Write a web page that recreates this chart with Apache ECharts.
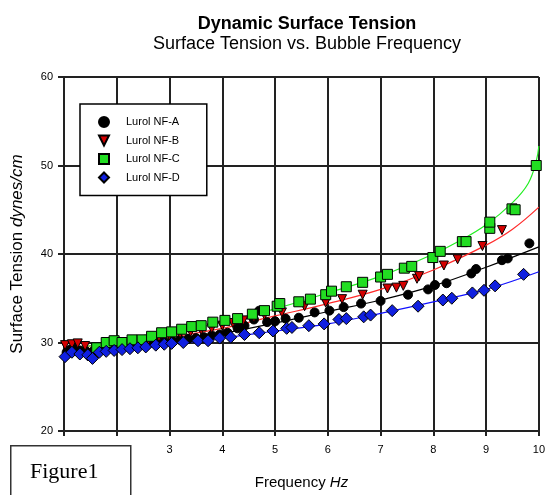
<!DOCTYPE html>
<html>
<head>
<meta charset="utf-8">
<script src="https://cdn.jsdelivr.net/npm/echarts@6/dist/echarts.min.js"></script>
<style>
html,body{margin:0;padding:0;background:#fff;}
#chart{width:548px;height:495px;}
</style>
</head>
<body>
<div id="chart"></div>
<script>
var seriesNames = ['Lurol NF-A', 'Lurol NF-B', 'Lurol NF-C', 'Lurol NF-D'];
var xTicks = [1, 2, 3, 4, 5, 6, 7, 8, 9, 10];
var yTicks = [20, 30, 40, 50, 60];

var nfaX = [1.05,1.12,1.2,1.3,1.42,1.55,1.7,1.85,2.0,2.15,2.3,2.45,2.6,2.75,2.9,3.05,3.2,3.35,3.5,3.65,3.8,3.95,4.1,4.29,4.42,4.6,4.7,4.85,5.0,5.2,5.45,5.75,6.03,6.3,6.63,7.0,7.52,7.9,8.03,8.25,8.72,8.81,9.3,9.41,9.82];
var nfaY = [28.9,29.2,29.4,29.1,29.0,29.0,29.3,29.4,29.5,29.6,29.7,29.8,29.9,30.0,30.1,30.2,30.3,30.4,30.5,30.6,30.8,30.9,31.1,31.6,31.9,32.6,33.6,32.3,32.4,32.7,32.8,33.4,33.6,34.0,34.4,34.7,35.4,36.0,36.5,36.7,37.8,38.3,39.3,39.5,41.2];

var nfbX = [1.02,1.15,1.26,1.4,1.6,1.8,2.0,2.2,2.4,2.6,2.8,3.0,3.2,3.4,3.6,3.8,4.0,4.2,4.4,4.6,4.8,5.13,5.56,5.96,6.27,6.66,7.13,7.3,7.43,7.69,7.73,8.2,8.46,8.93,9.3];
var nfbY = [29.7,29.8,29.9,29.6,29.4,29.6,29.8,30.0,30.1,30.3,30.6,30.8,31.0,31.2,31.4,31.6,31.9,32.2,32.5,32.8,33.1,33.4,34.1,34.5,34.9,35.4,36.1,36.2,36.4,37.2,37.5,38.7,39.4,40.9,42.7];

var nfcX = [1.62,1.8,1.95,2.1,2.29,2.48,2.66,2.85,3.04,3.23,3.42,3.6,3.82,4.05,4.29,4.57,4.8,5.04,5.09,5.45,5.67,5.96,6.07,6.35,6.66,7.0,7.13,7.45,7.59,7.99,8.13,8.55,8.62,9.07,9.07,9.49,9.55,9.95];
var nfcY = [29.4,30.0,30.2,30.0,30.3,30.3,30.7,31.1,31.2,31.5,31.8,31.9,32.3,32.5,32.7,33.2,33.6,34.1,34.4,34.6,34.9,35.4,35.8,36.3,36.8,37.4,37.7,38.4,38.6,39.6,40.3,41.4,41.4,42.9,43.6,45.1,45.0,50.0];

var nfdX = [1.02,1.15,1.3,1.45,1.54,1.67,1.8,1.95,2.1,2.25,2.4,2.55,2.74,2.9,3.04,3.26,3.54,3.73,3.95,4.16,4.42,4.70,4.96,5.22,5.32,5.64,5.93,6.21,6.35,6.68,6.81,7.22,7.71,8.18,8.35,8.74,8.96,9.17,9.71];
var nfdY = [28.4,28.9,28.7,28.6,28.2,28.9,29.0,29.1,29.2,29.3,29.4,29.5,29.7,29.8,29.9,30.0,30.2,30.2,30.5,30.6,30.9,31.1,31.3,31.6,31.7,31.9,32.1,32.6,32.7,32.9,33.1,33.6,34.1,34.8,35.0,35.6,35.9,36.4,37.7];

// fitted trend curves
var fitAX = [1,2,3,4,5,6,7,8,9,10];
var fitAY = [29.0,29.4,30.0,31.0,32.2,33.5,34.8,36.4,38.5,40.8];
var fitBX = [1,2,3,4,5,6,7,8,9,9.5,10];
var fitBY = [29.5,29.8,30.6,31.6,33.0,34.4,36.0,38.2,41.0,42.8,45.3];
var fitCX = [1,2,3,4,5,6,7,8,8.5,9,9.5,9.8,9.95,10];
var fitCY = [29.3,30.0,31.0,32.3,33.8,35.6,37.5,40.0,41.5,43.3,45.8,48.0,50.5,52.2];
var fitDX = [1,2,3,4,5,6,7,8,9,10];
var fitDY = [28.5,29.2,29.8,30.5,31.3,32.1,33.3,34.6,36.0,38.0];

function pairs(xs, ys) { return xs.map(function (x, i) { return [x, ys[i]]; }); }

var FONT = '"Liberation Sans", Arial, sans-serif';
var chart = echarts.init(document.getElementById('chart'), null, {renderer: 'canvas'});

function fit(xs, ys, color) {
  return {
    type: 'line', data: pairs(xs, ys), smooth: 0.4, symbol: 'none', silent: true,
    lineStyle: {color: color, width: 1.2}, z: 2, legendHoverLink: false
  };
}
function pts(name, xs, ys, symbol, size, color) {
  return {
    type: 'scatter', name: name, data: pairs(xs, ys), symbol: symbol, symbolSize: size,
    itemStyle: {color: color, borderColor: '#000', borderWidth: 1, opacity: 1}, z: 3
  };
}

var option = {
  backgroundColor: '#fff',
  animation: false,
  title: [
    {text: 'Dynamic Surface Tension', left: 302, top: 10, textAlign: 'center',
     textStyle: {fontFamily: FONT, fontSize: 18, fontWeight: 'bold', color: '#000'}},
    {text: 'Surface Tension vs. Bubble Frequency', left: 302, top: 30, textAlign: 'center',
     textStyle: {fontFamily: FONT, fontSize: 18, fontWeight: 'normal', color: '#000'}}
  ],
  grid: {left: 64, right: 7, top: 77, bottom: 59},
  legend: {
    data: seriesNames, orient: 'vertical', left: 80, top: 104,
    backgroundColor: '#fff', borderColor: '#000', borderWidth: 1.5,
    padding: [12, 27, 12, 18], itemWidth: 10, itemHeight: 10, itemGap: 6.5,
    textStyle: {fontFamily: FONT, fontSize: 11, color: '#000', lineHeight: 12, padding: [0, 0, 0, 12]}
  },
  xAxis: {
    type: 'value', min: xTicks[0], max: xTicks[xTicks.length - 1], interval: 1,
    name: '{a|Frequency }{b|Hz}', nameLocation: 'middle', nameGap: 44,
    nameTextStyle: {rich: {
      a: {fontFamily: FONT, fontSize: 15, color: '#000'},
      b: {fontFamily: FONT, fontSize: 15, fontStyle: 'italic', color: '#000'}
    }},
    axisLine: {show: true, lineStyle: {color: '#222', width: 2}},
    axisTick: {show: true, length: 5, lineStyle: {color: '#222', width: 2}},
    axisLabel: {fontFamily: FONT, fontSize: 11, color: '#000', margin: 13},
    splitLine: {show: true, lineStyle: {color: '#222', width: 2}}
  },
  yAxis: {
    type: 'value', min: yTicks[0], max: yTicks[yTicks.length - 1], interval: 10,
    name: '{a|Surface Tension }{b|dynes/cm}', nameLocation: 'middle', nameGap: 38, nameRotate: 90,
    nameTextStyle: {rich: {
      a: {fontFamily: FONT, fontSize: 17, color: '#000'},
      b: {fontFamily: FONT, fontSize: 17, fontStyle: 'italic', color: '#000'}
    }},
    axisLine: {show: true, lineStyle: {color: '#222', width: 2}},
    axisTick: {show: true, length: 6, lineStyle: {color: '#222', width: 2}},
    axisLabel: {fontFamily: FONT, fontSize: 11, color: '#000', margin: 11},
    splitLine: {show: true, lineStyle: {color: '#222', width: 2}}
  },
  series: [
    fit(fitAX, fitAY, '#000000'),
    fit(fitBX, fitBY, '#ff2a2a'),
    fit(fitCX, fitCY, '#22ee22'),
    fit(fitDX, fitDY, '#1010ff'),
    pts(seriesNames[0], nfaX, nfaY, 'circle', 9, '#000000'),
    pts(seriesNames[1], nfbX, nfbY, 'path://M0,0L10,0L5,10Z', 9, '#d40000'),
    pts(seriesNames[2], nfcX, nfcY, 'rect', 10, '#22dd22'),
    pts(seriesNames[3], nfdX, nfdY, 'diamond', 12, '#1020e0')
  ],
  graphic: [
    {type: 'rect', left: 10, top: 445, z: 1000, zlevel: 2,
     shape: {x: 0, y: 0, width: 120, height: 60},
     style: {fill: '#fff', stroke: '#333', lineWidth: 1.5}},
    {type: 'text', left: 30, top: 461, z: 1001, zlevel: 2,
     style: {text: 'Figure1', fill: '#000',
       font: '22px "Liberation Serif", "Times New Roman", serif'}}
  ]
};
chart.setOption(option);
</script>
</body>
</html>
